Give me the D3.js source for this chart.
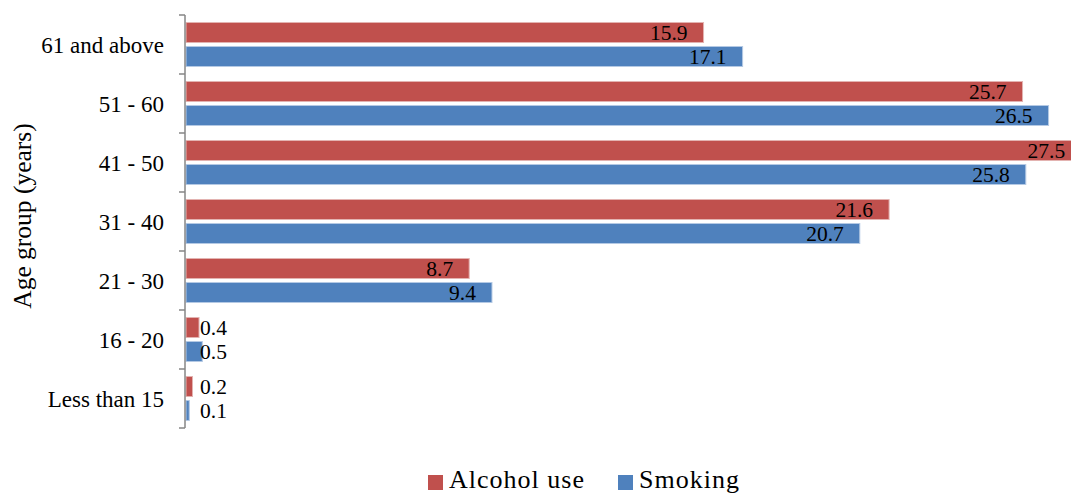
<!DOCTYPE html>
<html>
<head>
<meta charset="utf-8">
<script src="https://cdn.jsdelivr.net/npm/d3@7"></script>
<style>
  html, body { margin: 0; padding: 0; background: #fff; }
  svg { display: block; }
  text { font-family: "Liberation Serif", "DejaVu Serif", serif; fill: #000; }
</style>
</head>
<body>
<svg id="chart" width="1071" height="495"></svg>
<script>
// Age groups, listed top to bottom as drawn
const categories = ["61 and above", "51 - 60", "41 - 50", "31 - 40", "21 - 30", "16 - 20", "Less than 15"];
const seriesNames = ["Alcohol use", "Smoking"];
const alcoholUse = [15.9, 25.7, 27.5, 21.6, 8.7, 0.4, 0.2];
const smoking = [17.1, 26.5, 25.8, 20.7, 9.4, 0.5, 0.1];
const seriesColors = ["#C0504D", "#4F81BD"];
const seriesStrokes = ["#e3b3b1", "#b4c9e4"];

const svg = d3.select("#chart");

const x = d3.scaleLinear().domain([0, 28]).range([186, 186 + 28 * 32.55]);
const y = d3.scaleBand().domain(categories).range([15, 428]).padding(0);
const ySub = d3.scaleBand().domain(seriesNames).range([7.5, y.bandwidth() - 7.5]).paddingInner(1 / 6);

const rows = categories.map((c, i) => ({ cat: c, vals: [alcoholUse[i], smoking[i]] }));

const groups = svg.append("g").selectAll("g").data(rows).join("g")
  .attr("transform", d => `translate(0,${y(d.cat)})`);

groups.selectAll("rect").data(d => d.vals.map((v, k) => ({ v, k }))).join("rect")
  .attr("x", x(0))
  .attr("y", d => ySub(seriesNames[d.k]))
  .attr("width", d => x(d.v) - x(0))
  .attr("height", ySub.bandwidth())
  .attr("fill", d => seriesColors[d.k])
  .attr("stroke", d => seriesStrokes[d.k])
  .attr("stroke-width", 1);

// Value labels: inside the bar end, or just past the axis for very short bars
groups.selectAll("text.val").data(d => d.vals.map((v, k) => ({ v, k }))).join("text")
  .attr("class", "val")
  .attr("x", d => d.v < 1 ? x(0) + 14 : x(d.v) - 16)
  .attr("y", d => ySub(seriesNames[d.k]) + ySub.bandwidth() / 2)
  .attr("dy", "0.35em")
  .attr("text-anchor", d => d.v < 1 ? "start" : "end")
  .style("font-size", "21.5px")
  .text(d => d.v.toFixed(1));

// Category axis
const axG = svg.append("g").attr("transform", `translate(${x(0) - 1},0)`);
axG.append("line").attr("x1", 0).attr("x2", 0).attr("y1", y.range()[0]).attr("y2", y.range()[1])
  .attr("stroke", "#868686").attr("stroke-width", 1.5);
const tickYs = categories.map(c => y(c)).concat([y.range()[1]]);
axG.selectAll("line.tick").data(tickYs).join("line")
  .attr("class", "tick")
  .attr("x1", -6).attr("x2", 0).attr("y1", d => d).attr("y2", d => d)
  .attr("stroke", "#868686").attr("stroke-width", 1.5);

axG.selectAll("text.cat").data(categories).join("text")
  .attr("class", "cat")
  .attr("x", -21)
  .attr("y", d => y(d) + y.bandwidth() / 2)
  .attr("dy", "0.35em")
  .attr("text-anchor", "end")
  .style("font-size", "23px")
  .text(d => d);

// Axis title
svg.append("text")
  .attr("transform", "translate(31,216) rotate(-90)")
  .attr("text-anchor", "middle")
  .style("font-size", "25.5px")
  .text("Age group (years)");

// Legend
const legendItems = [
  { name: seriesNames[0], color: seriesColors[0], x: 428 },
  { name: seriesNames[1], color: seriesColors[1], x: 618 }
];
const lg = svg.append("g");
lg.selectAll("rect").data(legendItems).join("rect")
  .attr("x", d => d.x).attr("y", 475).attr("width", 15).attr("height", 15)
  .attr("fill", d => d.color);
lg.selectAll("text").data(legendItems).join("text")
  .attr("x", d => d.x + 21).attr("y", 488)
  .style("font-size", "26px")
  .style("letter-spacing", "1px")
  .text(d => d.name);
</script>
</body>
</html>
